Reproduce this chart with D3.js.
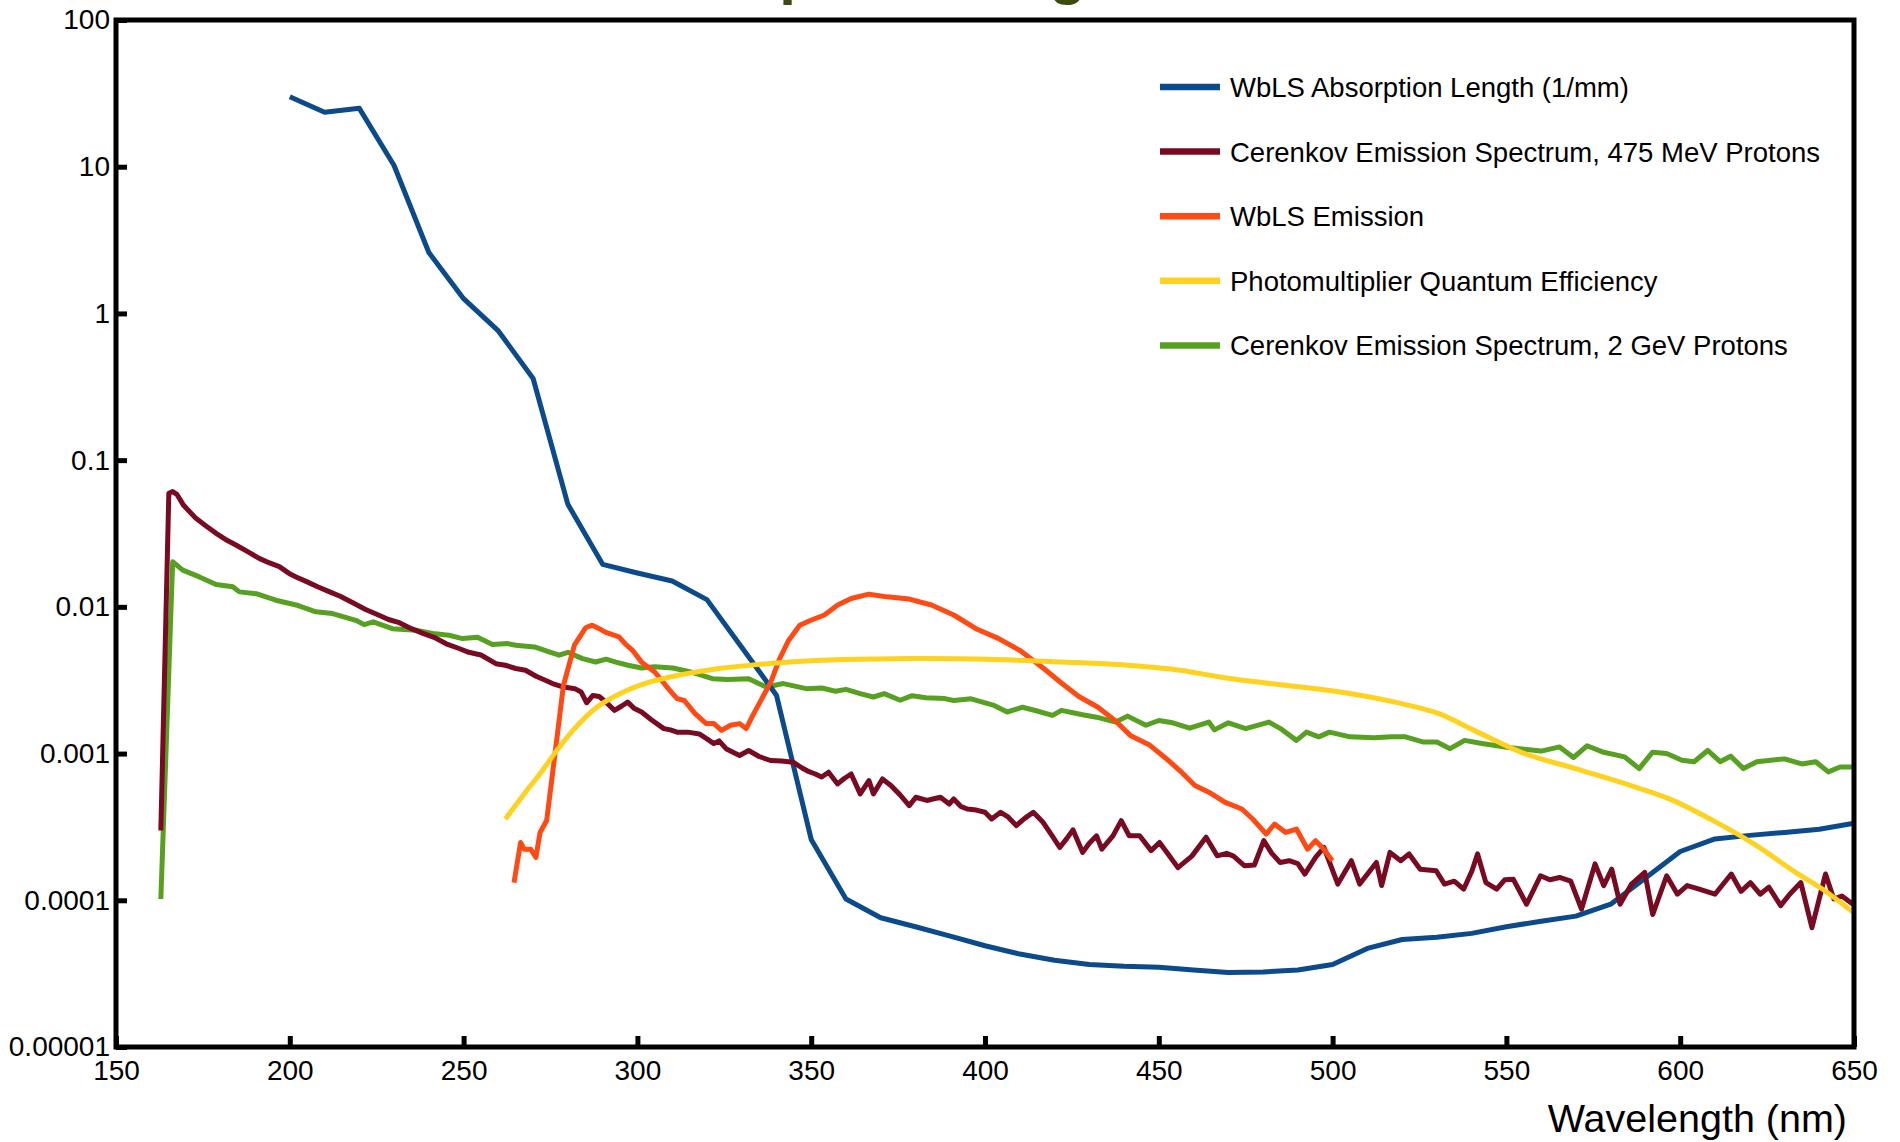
<!DOCTYPE html>
<html>
<head>
<meta charset="utf-8">
<script src="https://cdn.jsdelivr.net/npm/d3@7"></script>
<style>
  html, body { margin: 0; padding: 0; background: #ffffff; }
  svg { display: block; }
  text { font-family: "Liberation Sans", Arial, sans-serif; }
</style>
</head>
<body>
<svg id="chart" width="1900" height="1142"></svg>
<script>
// ---- Axis ticks and labels ----
const xTicks = [150, 200, 250, 300, 350, 400, 450, 500, 550, 600, 650];
const yTicks = [1e-5, 1e-4, 1e-3, 1e-2, 1e-1, 1, 10, 100];
const yTickLabels = ["0.00001", "0.0001", "0.001", "0.01", "0.1", "1", "10", "100"];

const titleText = "Absorption Length";
const xAxisTitle = "Wavelength (nm)";

const seriesNames = [
  "WbLS Absorption Length (1/mm)",
  "Cerenkov Emission Spectrum, 475 MeV Protons",
  "WbLS Emission",
  "Photomultiplier Quantum Efficiency",
  "Cerenkov Emission Spectrum, 2 GeV Protons"
];
const seriesColors = ["#0b4a8b", "#780a22", "#ff4a14", "#ffd21f", "#58a021"];

// ---- Series: [wavelength (nm), value] ----
const wblsAbsorption = [
  [200, 30], [210, 23.5], [220, 25], [230, 10.2], [240, 2.6], [250, 1.26], [260, 0.76],
  [270, 0.36], [280, 0.05], [290, 0.0195], [300, 0.017], [310, 0.015], [320, 0.0112],
  [330, 0.0053], [340, 0.0025], [350, 0.00026], [360, 1.02e-4], [370, 7.6e-5], [380, 6.6e-5],
  [390, 5.7e-5], [400, 4.9e-5], [410, 4.3e-5], [420, 3.9e-5], [430, 3.65e-5], [440, 3.55e-5],
  [450, 3.5e-5], [460, 3.35e-5], [470, 3.22e-5], [480, 3.25e-5], [490, 3.35e-5], [500, 3.65e-5],
  [510, 4.7e-5], [520, 5.4e-5], [530, 5.6e-5], [540, 5.95e-5], [550, 6.6e-5], [560, 7.2e-5],
  [570, 7.8e-5], [580, 9.4e-5], [590, 1.42e-4], [600, 2.15e-4], [610, 2.62e-4], [620, 2.77e-4],
  [630, 2.9e-4], [640, 3.05e-4], [650, 3.35e-4]
];

const cerenkov475 = [
  [162.9, 2.99e-4], [165.2, 0.0594], [166.3, 0.061], [167.5, 0.0585], [169.5, 0.049], [173, 0.0401],
  [176, 0.0355], [178.8, 0.0317], [181.5, 0.0288], [184.5, 0.0264], [188, 0.0237], [191.2, 0.0214],
  [194, 0.02], [197, 0.0188], [199.8, 0.0169], [201.8, 0.016], [205, 0.0148], [208, 0.0137],
  [211.3, 0.0127], [214.5, 0.0118], [218, 0.0107], [221.8, 0.0096], [225, 0.0089], [228.4, 0.0082],
  [231.5, 0.0078], [235, 0.0071], [238.3, 0.0066], [241.5, 0.0062], [245, 0.0056], [248.7, 0.0052],
  [251.5, 0.0049], [255, 0.0047], [259.3, 0.0041], [262, 0.004], [265, 0.0038], [267.8, 0.0037],
  [271, 0.00335], [273.5, 0.00316], [275.6, 0.003], [278.5, 0.00285], [282, 0.00277], [283.8, 0.00263],
  [285.4, 0.00222], [287.2, 0.00249], [289, 0.00245], [291, 0.00224], [293.4, 0.00197], [295.5, 0.00211],
  [297.2, 0.00224], [299, 0.00204], [301.2, 0.00192], [304, 0.0017], [307.6, 0.00148], [309.5, 0.00145],
  [311.4, 0.0014], [314.5, 0.0014], [317.8, 0.00136], [320, 0.00126], [322, 0.00117], [323.5, 0.00122],
  [325.5, 0.00108], [327.5, 0.00102], [329.4, 0.00097], [332, 0.00105], [335, 0.000955], [338.3, 0.000897],
  [341.5, 0.00089], [344.8, 0.000873], [347.5, 0.000794], [349, 0.00076], [351.2, 0.000726], [353, 0.000692],
  [355, 0.000746], [357.6, 0.000621], [359.5, 0.000676], [361.5, 0.000726], [364.1, 0.000531], [366.6, 0.000655],
  [367.9, 0.000531], [370.5, 0.000671], [373, 0.000603], [375.5, 0.000525], [378.2, 0.000442], [380.1, 0.000504],
  [383.3, 0.000479], [385, 0.00049], [387.2, 0.000504], [389.7, 0.000453], [391, 0.00049], [393, 0.000437],
  [394.9, 0.000419], [397.5, 0.000412], [400, 0.000398], [401.9, 0.000358], [404.5, 0.000398], [406.5, 0.000372],
  [409, 0.000323], [411.5, 0.000363], [413.9, 0.000398], [416.7, 0.00034], [419, 0.000282], [421.5, 0.000229],
  [423.5, 0.000263], [425.3, 0.000302], [428.1, 0.000212], [430, 0.000245], [432.1, 0.000275], [433.6, 0.000223],
  [436.8, 0.000275], [439.2, 0.000349], [441.5, 0.000275], [444.5, 0.000275], [447.8, 0.000218], [450.2, 0.000248],
  [452.5, 0.000209], [455.5, 0.000167], [459.5, 0.0002], [463.6, 0.000269], [466.8, 0.000201], [469.5, 0.000209],
  [471.5, 0.0002], [474.6, 0.000172], [477.5, 0.000174], [480.2, 0.000255], [482.5, 0.000209], [484.9, 0.000181],
  [487.5, 0.000186], [490, 0.000178], [492, 0.000151], [495.1, 0.000196], [497.5, 0.000229], [501.5, 0.000129],
  [505.4, 0.000186], [507.8, 0.000129], [512.6, 0.000181], [514.1, 0.000126], [516.5, 0.000212], [519.6, 0.000186],
  [522, 0.000207], [525.2, 0.000163], [529.8, 0.000159], [532.2, 0.000129], [535, 0.000135], [537.7, 0.000119],
  [540.1, 0.000159], [541.7, 0.000207], [544.1, 0.000132], [547.2, 0.000119], [549.5, 0.000138], [552, 0.000139],
  [555.8, 9.4e-5], [559.8, 0.000147], [562.5, 0.000138], [565.3, 0.000143], [568.5, 0.000135], [571.6, 8.7e-5],
  [575.5, 0.000177], [578, 0.000126], [580.3, 0.000163], [582.7, 9.4e-5], [586, 0.000129], [589.8, 0.000155],
  [592.1, 8.0e-5], [596.1, 0.000147], [599.2, 0.00011], [602, 0.000126], [605, 0.00012], [610, 0.00011],
  [614.7, 0.000151], [617.5, 0.000115], [620.2, 0.000132], [623, 0.00011], [625.5, 0.000123], [628.9, 9.2e-5],
  [631.5, 0.00011], [634.7, 0.000132], [637.9, 6.5e-5], [641.8, 0.000151], [644.2, 0.000102], [646.5, 0.000107],
  [649.7, 9.4e-5]
];

const wblsEmission = [
  [264.5, 1.32e-4], [266.4, 2.48e-4], [267.4, 2.23e-4], [269.3, 2.23e-4], [270.8, 1.96e-4], [272, 2.9e-4],
  [273.9, 3.5e-4], [276.3, 1.0e-3], [278.7, 2.9e-3], [281.9, 5.5e-3], [285.1, 7.2e-3], [287, 7.5e-3],
  [289, 7.1e-3], [290.9, 6.7e-3], [294.7, 6.24e-3], [296.5, 5.6e-3], [298.6, 5.06e-3], [301.2, 4.2e-3],
  [305, 3.6e-3], [308.9, 2.77e-3], [311.4, 2.37e-3], [313.5, 2.3e-3], [316.6, 1.87e-3], [319.8, 1.6e-3],
  [322, 1.6e-3], [324.2, 1.44e-3], [326.8, 1.56e-3], [329.4, 1.6e-3], [331.3, 1.48e-3], [333.2, 1.82e-3],
  [335.8, 2.37e-3], [338.4, 3.08e-3], [340.9, 4.43e-3], [343.5, 5.9e-3], [346.7, 7.5e-3], [349.9, 8.1e-3],
  [353.8, 8.8e-3], [357.6, 1.03e-2], [361.5, 1.14e-2], [366.6, 1.22e-2], [371.8, 1.17e-2], [378.2, 1.13e-2],
  [384.6, 1.03e-2], [391, 8.8e-3], [397.4, 7.1e-3], [403.8, 6.1e-3], [410.3, 5.0e-3], [416.9, 3.8e-3],
  [421.8, 3.05e-3], [427, 2.45e-3], [432.5, 2.07e-3], [437.4, 1.68e-3], [441.8, 1.33e-3], [447.2, 1.15e-3],
  [452, 9.3e-4], [456.2, 7.6e-4], [460.4, 6.05e-4], [464.4, 5.45e-4], [469.1, 4.65e-4], [473.9, 4.19e-4],
  [477, 3.58e-4], [480.9, 2.83e-4], [483.3, 3.31e-4], [486.5, 2.9e-4], [489.6, 3.06e-4], [492.8, 2.23e-4],
  [495.1, 2.55e-4], [497.5, 2.23e-4], [499.9, 1.86e-4]
];

const pmtQE = [
  [262, 3.58e-4], [267.8, 5.45e-4], [272.3, 7.46e-4], [276.8, 1.05e-3], [281.9, 1.48e-3], [288.3, 2.07e-3],
  [296, 2.63e-3], [303.7, 3.08e-3], [312.7, 3.45e-3], [323, 3.79e-3], [334.5, 4.04e-3], [347.4, 4.26e-3],
  [364.1, 4.4e-3], [383.3, 4.44e-3], [402.6, 4.37e-3], [421.8, 4.21e-3], [441, 4.0e-3], [456.2, 3.7e-3],
  [467.5, 3.33e-3], [486.5, 2.92e-3], [502.2, 2.63e-3], [518, 2.24e-3], [530.6, 1.87e-3], [541.7, 1.4e-3],
  [554.3, 1.02e-3], [570.1, 7.87e-4], [585.8, 6.05e-4], [596.9, 4.91e-4], [609.5, 3.49e-4], [622.1, 2.35e-4],
  [633.2, 1.55e-4], [641, 1.19e-4], [649.7, 8.3e-5]
];

const cerenkov2GeV = [
  [162.9, 1.02e-4], [166.3, 0.0203], [169.2, 0.0178], [174, 0.016], [178.8, 0.0142], [183.6, 0.0137],
  [185.5, 0.01265], [190.3, 0.0123], [196, 0.0111], [201.8, 0.0103], [207.5, 0.00925], [212.3, 0.009],
  [219, 0.0081], [221.4, 0.00757], [224, 0.0079], [229.5, 0.0071], [236.3, 0.00693], [241.1, 0.00658],
  [245.8, 0.0064], [249.7, 0.00608], [254, 0.0062], [258.3, 0.00553], [262.7, 0.00562], [265, 0.00547],
  [270.4, 0.00533], [274.6, 0.00493], [277.5, 0.00468], [280, 0.0049], [284.2, 0.00444], [288, 0.00421],
  [291, 0.0044], [293.8, 0.0042], [297.3, 0.004], [301.2, 0.00383], [305, 0.0039], [310.2, 0.00383],
  [315.3, 0.0036], [321.6, 0.00324], [326, 0.0032], [332, 0.00324], [337.1, 0.00284], [342, 0.003],
  [348.6, 0.00277], [353, 0.0028], [357, 0.00266], [360, 0.00274], [364.1, 0.00256], [367.9, 0.00243],
  [371, 0.00256], [375.6, 0.00231], [379, 0.00248], [383, 0.0024], [388.4, 0.00237], [391, 0.0023],
  [396, 0.00236], [402.6, 0.00213], [406.4, 0.00192], [410.8, 0.00207], [415, 0.00195], [419.4, 0.00182],
  [422, 0.00197], [428.1, 0.00184], [432.1, 0.00177], [437.6, 0.00164], [441, 0.0018], [446.3, 0.00156],
  [450, 0.00168], [454, 0.00162], [458.9, 0.00149], [464.4, 0.00164], [466, 0.00145], [470, 0.00162],
  [475, 0.00148], [481.7, 0.00164], [485, 0.00148], [489.6, 0.00123], [492.5, 0.0014], [496, 0.0013],
  [499.1, 0.0014], [505, 0.0013], [512, 0.00128], [517, 0.0013], [521, 0.0013], [525.9, 0.0012],
  [530, 0.0012], [533.8, 0.00108], [538, 0.00123], [543, 0.00117], [549.6, 0.00111], [555, 0.00107],
  [560, 0.00104], [565.3, 0.00111], [569.3, 0.00094], [573.2, 0.00113], [578, 0.00102], [584, 0.00095],
  [588.2, 0.00079], [592, 0.00102], [596.1, 0.001], [600.5, 0.0009], [604, 0.00088], [607.9, 0.00105],
  [611.5, 0.00088], [614.5, 0.00096], [618.2, 0.00079], [622, 0.00088], [630, 0.00092], [635, 0.00085],
  [639, 0.00088], [642.6, 0.00075], [646, 0.00081], [649.7, 0.00081]
];

// ---- Layout ----
const plot = { left: 116, right: 1854, top: 20, bottom: 1047 };

const svg = d3.select("#chart");

const x = d3.scaleLinear().domain([150, 650]).range([plot.left, plot.right]);
const y = d3.scaleLog().domain([1e-5, 100]).range([plot.bottom, plot.top]);

// Title (sits above the frame, mostly beyond the top edge)
svg.append("text")
  .attr("x", 606)
  .attr("y", -7.5)
  .attr("font-size", 60)
  .attr("font-weight", "bold")
  .attr("fill", "#3c4a12")
  .text(titleText);

// Curves, back to front
const lineGen = d3.line().x(d => x(d[0])).y(d => y(d[1]));
const smoothGen = d3.line().x(d => x(d[0])).y(d => y(d[1])).curve(d3.curveMonotoneX);

const layers = [
  { data: cerenkov2GeV, color: seriesColors[4], gen: lineGen },
  { data: wblsAbsorption, color: seriesColors[0], gen: lineGen },
  { data: cerenkov475, color: seriesColors[1], gen: lineGen },
  { data: wblsEmission, color: seriesColors[2], gen: lineGen },
  { data: pmtQE, color: seriesColors[3], gen: smoothGen }
];

svg.append("g").selectAll("path")
  .data(layers)
  .join("path")
  .attr("d", d => d.gen(d.data))
  .attr("fill", "none")
  .attr("stroke", d => d.color)
  .attr("stroke-width", 5)
  .attr("stroke-linejoin", "round")
  .attr("stroke-linecap", "butt");

// Axes with inward ticks
const xAxis = d3.axisBottom(x)
  .tickValues(xTicks)
  .tickFormat(d3.format("d"))
  .tickSizeInner(-11)
  .tickSizeOuter(0)
  .tickPadding(13);

const gx = svg.append("g")
  .attr("transform", `translate(0,${plot.bottom})`)
  .call(xAxis);
gx.select(".domain").remove();
gx.selectAll(".tick line").attr("stroke", "#000").attr("stroke-width", 5);
gx.selectAll(".tick text")
  .attr("font-size", 28)
  .attr("font-family", "\"Liberation Sans\", Arial, sans-serif")
  .attr("fill", "#000");

const yAxis = d3.axisLeft(y)
  .tickValues(yTicks)
  .tickFormat((d, i) => yTickLabels[i])
  .tickSizeInner(-11)
  .tickSizeOuter(0)
  .tickPadding(6);

const gy = svg.append("g")
  .attr("transform", `translate(${plot.left},0)`)
  .call(yAxis);
gy.select(".domain").remove();
gy.selectAll(".tick line").attr("stroke", "#000").attr("stroke-width", 5);
gy.selectAll(".tick text")
  .attr("font-size", 28)
  .attr("font-family", "\"Liberation Sans\", Arial, sans-serif")
  .attr("fill", "#000");

// Frame
svg.append("rect")
  .attr("x", plot.left)
  .attr("y", plot.top)
  .attr("width", plot.right - plot.left)
  .attr("height", plot.bottom - plot.top)
  .attr("fill", "none")
  .attr("stroke", "#000")
  .attr("stroke-width", 5);

// Axis title
svg.append("text")
  .attr("x", 1847)
  .attr("y", 1132)
  .attr("text-anchor", "end")
  .attr("font-size", 39.5)
  .attr("fill", "#000")
  .text(xAxisTitle);

// Legend
const legend = svg.append("g").attr("transform", "translate(1160,87)");
const rows = legend.selectAll("g")
  .data(seriesNames)
  .join("g")
  .attr("transform", (d, i) => `translate(0,${i * 64.6})`);
rows.append("line")
  .attr("x1", 0).attr("x2", 60)
  .attr("y1", 0).attr("y2", 0)
  .attr("stroke", (d, i) => seriesColors[i])
  .attr("stroke-width", 6.5);
rows.append("text")
  .attr("x", 70)
  .attr("y", 0)
  .attr("dy", "0.36em")
  .attr("font-size", 27.5)
  .attr("fill", "#000")
  .text(d => d);
</script>
</body>
</html>
